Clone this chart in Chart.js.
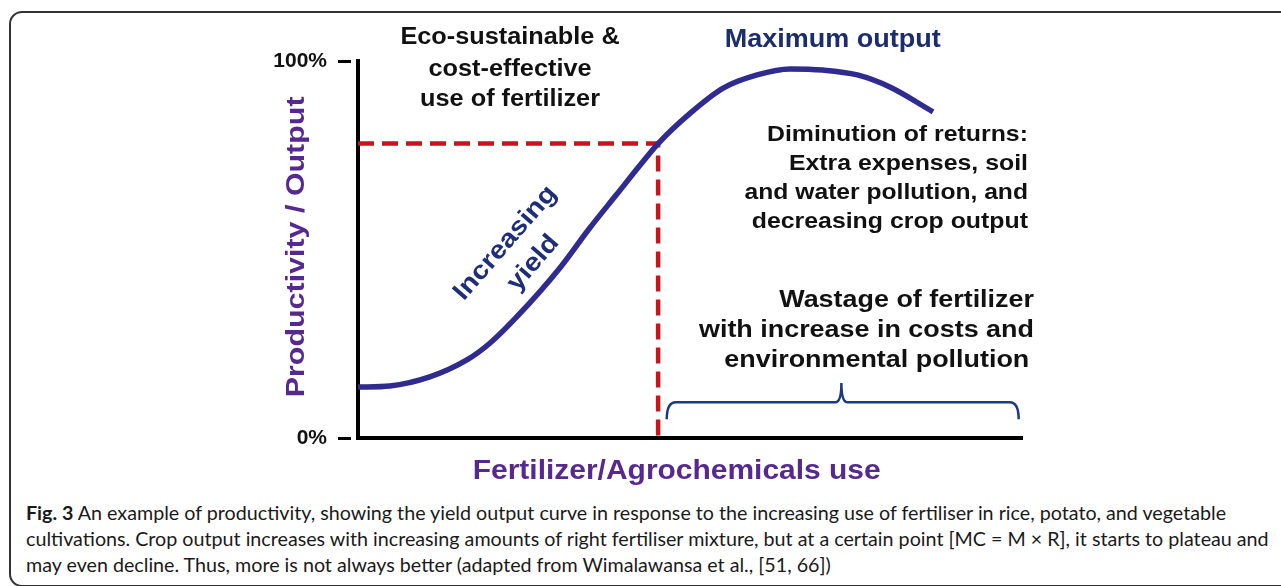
<!DOCTYPE html>
<html>
<head>
<meta charset="utf-8">
<script src="https://cdn.jsdelivr.net/npm/chart.js@4.4.1/dist/chart.umd.min.js"></script>
<style>
  html, body { margin: 0; padding: 0; background: #fff; width: 1281px; height: 586px; overflow: hidden; }
  #frame { position: absolute; left: 9px; top: 11px; width: 1300px; height: 572px; border: 2px solid #333; border-radius: 13px; }
  #chart { position: absolute; left: 0; top: 0; }
  #caption { position: absolute; left: 26px; top: 500px; width: 1240px; font-family: Lato, "Open Sans", sans-serif; font-size: 19.7px; line-height: 26px; color: #1a1a1a; white-space: nowrap; }
  #caption b { font-weight: 700; }
</style>
</head>
<body>
<div id="frame"></div>
<canvas id="chart" width="1281" height="490"></canvas>
<div id="caption"><b>Fig. 3</b> An example of productivity, showing the yield output curve in response to the increasing use of fertiliser in rice, potato, and vegetable<br>cultivations. Crop output increases with increasing amounts of right fertiliser mixture, but at a certain point [MC = M × R], it starts to plateau and<br>may even decline. Thus, more is not always better (adapted from Wimalawansa et al., [51, 66])</div>
<script>
// fertilizer use (x) and productivity (%)
const fertilizerUse = [0, 4.8, 10.8, 16.4, 19.9, 23.9, 30.4, 34.9, 39.0, 42.5, 45.2, 50.0, 55.0, 60.1, 65.1, 70.0, 75.2, 80.1, 86.6];
const productivity = [13.5, 13.8, 16.2, 20.7, 25.2, 32.1, 45.1, 55.7, 64.7, 72.4, 78.1, 86.1, 92.8, 96.3, 97.9, 97.6, 96.3, 93.1, 86.5];
const optimumX = 45.2;
const optimumY = 78.1;
const yTickValues = [0, 100];
const yTickLabels = ['0%', '100%'];
const wastageRange = [46.5, 99.5];

const FONT = '"Liberation Sans", Arial, sans-serif';
const purple = '#56298f';
const navy = '#1b2d6b';

// text notes, anchored in data units
const notes = [
    { text: 'Eco-sustainable &', x: 22.9, y: 106.1, size: 23, sx: 1.1 },
    { text: 'cost-effective', x: 22.9, y: 97.6, size: 23, sx: 1.1 },
    { text: 'use of fertilizer', x: 22.9, y: 89.7, size: 23, sx: 1.1 },
    { text: 'Maximum output', x: 71.5, y: 105.6, size: 25, sx: 1.08, color: navy },
    { text: 'Diminution of returns:', x: 100.9, y: 80.4, size: 22, sx: 1.13, align: 'right' },
    { text: 'Extra expenses, soil', x: 100.9, y: 72.7, size: 22, sx: 1.13, align: 'right' },
    { text: 'and water pollution, and', x: 100.9, y: 65.0, size: 22, sx: 1.12, align: 'right' },
    { text: 'decreasing crop output', x: 100.9, y: 57.3, size: 22, sx: 1.13, align: 'right' },
    { text: 'Wastage of fertilizer', x: 101.8, y: 36.3, size: 23, sx: 1.17, align: 'right' },
    { text: 'with increase in costs and', x: 101.8, y: 28.4, size: 23, sx: 1.17, align: 'right' },
    { text: 'environmental pollution', x: 101.1, y: 20.4, size: 23, sx: 1.17, align: 'right' },
    { text: 'Increasing', x: 22.2, y: 51.7, size: 25.5, sx: 1.12, color: '#1e2f78', rot: -49 },
    { text: 'yield', x: 26.4, y: 46.4, size: 25.5, sx: 1.12, color: '#1e2f78', rot: -49 },
    { text: 'Productivity / Output', x: -9.2, y: 50.7, size: 26, sx: 1.17, color: purple, rot: -90 },
    { text: 'Fertilizer/Agrochemicals use', x: 48.0, y: -8.8, size: 28, sx: 1.07, color: purple }
];

function drawText(ctx, n, px, py) {
    ctx.save();
    ctx.translate(px, py);
    if (n.rot) ctx.rotate(n.rot * Math.PI / 180);
    ctx.scale(n.sx || 1, 1);
    ctx.font = 'bold ' + n.size + 'px ' + FONT;
    ctx.fillStyle = n.color || '#111';
    ctx.textAlign = n.align || 'center';
    ctx.textBaseline = 'middle';
    ctx.fillText(n.text, 0, 0);
    ctx.restore();
}

const notesPlugin = {
    id: 'notes',
    afterDraw(chart) {
        const ctx = chart.ctx;
        const xs = chart.scales.x, ys = chart.scales.y;

        // curly bracket under the wastage text
        const x1 = xs.getPixelForValue(wastageRange[0]);
        const x2 = xs.getPixelForValue(wastageRange[1]);
        const xm = xs.getPixelForValue((wastageRange[0] + wastageRange[1]) / 2 - 0.2);
        const yTop = ys.getPixelForValue(9.5);
        const yEnd = ys.getPixelForValue(5.0);
        const yTip = ys.getPixelForValue(14.6);
        ctx.save();
        ctx.strokeStyle = '#1d3b7a';
        ctx.lineWidth = 2.5;
        ctx.beginPath();
        ctx.moveTo(x1, yEnd);
        ctx.quadraticCurveTo(x1, yTop, x1 + 9, yTop);
        ctx.lineTo(xm - 6, yTop);
        ctx.quadraticCurveTo(xm, yTop, xm, yTip);
        ctx.quadraticCurveTo(xm, yTop, xm + 6, yTop);
        ctx.lineTo(x2 - 9, yTop);
        ctx.quadraticCurveTo(x2, yTop, x2, yEnd);
        ctx.stroke();
        ctx.restore();

        notes.forEach(n => drawText(ctx, n, xs.getPixelForValue(n.x), ys.getPixelForValue(n.y)));
    }
};

new Chart(document.getElementById('chart').getContext('2d'), {
    type: 'line',
    data: {
        datasets: [{
            data: fertilizerUse.map((x, i) => ({ x: x, y: productivity[i] })),
            borderColor: '#2f2b8f',
            borderWidth: 5.5,
            pointRadius: 0,
            cubicInterpolationMode: 'monotone',
            fill: false
        }, {
            data: [{ x: 0, y: optimumY }, { x: optimumX, y: optimumY }, { x: optimumX, y: 0 }],
            borderColor: '#c8141c',
            borderWidth: 4.5,
            borderDash: [16, 8],
            pointRadius: 0,
            tension: 0,
            fill: false
        }]
    },
    options: {
        responsive: false,
        animation: false,
        layout: { padding: { left: 200, right: 259, top: 61, bottom: 52 } },
        plugins: { legend: { display: false }, tooltip: { enabled: false } },
        scales: {
            x: {
                type: 'linear', min: 0, max: 100,
                ticks: { display: false },
                grid: { display: false },
                border: { color: '#000', width: 4 },
                afterFit: s => { s.height = 0; }
            },
            y: {
                min: 0, max: 100,
                afterBuildTicks: s => { s.ticks = yTickValues.map(v => ({ value: v })); },
                ticks: {
                    callback: v => yTickLabels[yTickValues.indexOf(v)],
                    color: '#111',
                    padding: 11,
                    font: { family: FONT, size: 21, weight: 'bold' }
                },
                grid: { drawOnChartArea: false, tickLength: 20, tickWidth: 3, tickColor: '#000', tickBorderDash: [13, 20] },
                border: { color: '#000', width: 4 },
                afterFit: s => { s.width = 158; }
            }
        }
    },
    plugins: [notesPlugin]
});
</script>
</body>
</html>
